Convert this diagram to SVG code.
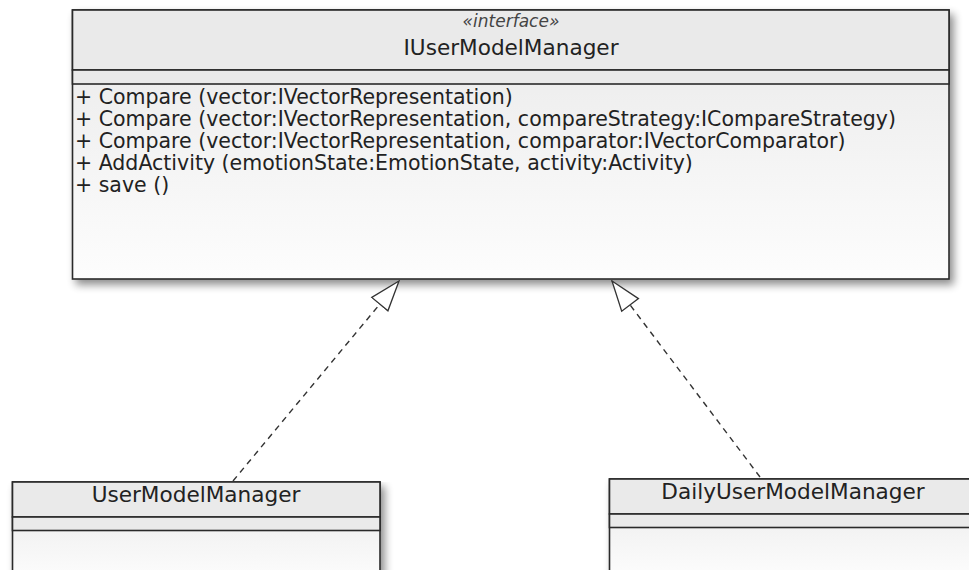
<svg xmlns="http://www.w3.org/2000/svg" width="969" height="570" viewBox="0 0 969 570">
<defs>
<linearGradient id="bodyGrad" x1="0" y1="0" x2="0" y2="1">
<stop offset="0" stop-color="#e9e9e9"/>
<stop offset="1" stop-color="#fdfdfd"/>
</linearGradient>
<filter id="shadow" x="-5%" y="-5%" width="112%" height="120%">
<feGaussianBlur in="SourceAlpha" stdDeviation="4"/>
<feOffset dx="4" dy="5" result="b"/>
<feComponentTransfer><feFuncA type="linear" slope="0.45"/></feComponentTransfer>
<feMerge><feMergeNode/><feMergeNode in="SourceGraphic"/></feMerge>
</filter>
<marker id="realize" markerWidth="32" markerHeight="24" refX="31" refY="11.5" orient="auto" markerUnits="userSpaceOnUse">
<path d="M31,11.5 L1,1 L1,22 Z" fill="#ffffff" stroke="#333333" stroke-width="1.3" stroke-linejoin="miter"/>
</marker>
</defs>
<style>
.box{fill:#eaeaea;stroke:#2a2a2a;stroke-width:1.6}
.body{fill:url(#bodyGrad);stroke:#2a2a2a;stroke-width:1.6}
.title{font-family:"DejaVu Sans",Verdana,sans-serif;font-size:21.6px;fill:#222;text-anchor:middle}
.stereo{font-family:"DejaVu Sans",Verdana,sans-serif;font-size:17px;font-style:italic;fill:#444;text-anchor:middle}
.op{font-family:"DejaVu Sans",Verdana,sans-serif;font-size:20.5px;fill:#222}
.dash{fill:none;stroke:#333;stroke-width:1.4;stroke-dasharray:6,5}
</style>
<g id="IUserModelManager">
<g filter="url(#shadow)">
<rect x="72.5" y="10" width="876.5" height="269" class="body"/>
</g>
<rect x="72.5" y="10" width="876.5" height="60" class="box"/>
<rect x="72.5" y="70" width="876.5" height="14" class="box"/>
<text x="511" y="27" class="stereo">«interface»</text>
<text x="511" y="55" class="title">IUserModelManager</text>
<text x="75" y="104" class="op">+ Compare (vector:IVectorRepresentation)</text>
<text x="75" y="126" class="op">+ Compare (vector:IVectorRepresentation, compareStrategy:ICompareStrategy)</text>
<text x="75" y="148" class="op">+ Compare (vector:IVectorRepresentation, comparator:IVectorComparator)</text>
<text x="75" y="170" class="op">+ AddActivity (emotionState:EmotionState, activity:Activity)</text>
<text x="75" y="192" class="op">+ save ()</text>
</g>
<g id="UserModelManager">
<g filter="url(#shadow)">
<rect x="12.5" y="482" width="367.5" height="100" class="body"/>
</g>
<rect x="12.5" y="482" width="367.5" height="35" class="box"/>
<rect x="12.5" y="517" width="367.5" height="13.5" class="box"/>
<text x="196" y="502" class="title">UserModelManager</text>
</g>
<g id="DailyUserModelManager">
<g filter="url(#shadow)">
<rect x="609.5" y="479" width="380" height="100" class="body"/>
</g>
<rect x="609.5" y="479" width="380" height="35" class="box"/>
<rect x="609.5" y="514" width="380" height="13.5" class="box"/>
<text x="793" y="499" class="title">DailyUserModelManager</text>
</g>
<g id="connectors">
<line x1="233" y1="481" x2="399" y2="281" class="dash" marker-end="url(#realize)"/>
<line x1="760" y1="477" x2="612" y2="281" class="dash" marker-end="url(#realize)"/>
</g>
</svg>
